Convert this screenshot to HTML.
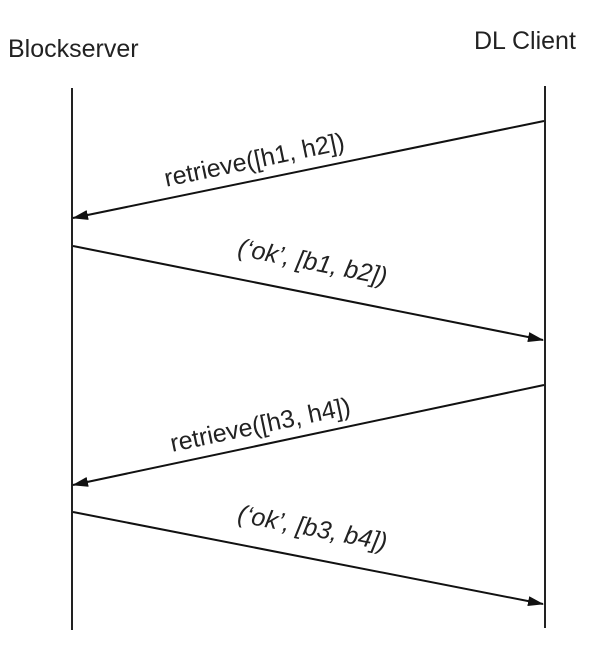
<!DOCTYPE html>
<html><head><meta charset="utf-8"><style>html,body{margin:0;padding:0;background:#fff}</style></head>
<body>
<svg width="609" height="653" xmlns="http://www.w3.org/2000/svg" style="display:block">
<defs><marker id="a" markerWidth="16" markerHeight="10" refX="15" refY="5" orient="auto" markerUnits="userSpaceOnUse"><path d="M0,0 L16,5 L0,10 Z" fill="#111"/></marker></defs>
<g font-family="Liberation Sans, sans-serif" font-size="25" fill="#222">
<text x="8" y="57">Blockserver</text>
<text x="474" y="49">DL Client</text>
</g>
<g stroke="#222" stroke-width="2" fill="none">
<line x1="72" y1="88" x2="72" y2="630"/>
<line x1="545" y1="86" x2="545" y2="628"/>
</g>
<g stroke="#111" stroke-width="2">
<line x1="544" y1="121" x2="73" y2="218" marker-end="url(#a)"/>
<line x1="73" y1="246" x2="543" y2="340" marker-end="url(#a)"/>
<line x1="544" y1="385" x2="73" y2="485" marker-end="url(#a)"/>
<line x1="73" y1="512" x2="543" y2="604" marker-end="url(#a)"/>
</g>
<g font-family="Liberation Sans, sans-serif" font-size="25" fill="#222" text-anchor="middle">
<text transform="translate(256,168) rotate(-11.8)">retrieve([h1, h2])</text>
<text transform="translate(311,270) rotate(11.3)" font-style="italic">(‘ok’, [b1, b2])</text>
<text transform="translate(262,433) rotate(-11.9)">retrieve([h3, h4])</text>
<text transform="translate(311,536) rotate(11)" font-style="italic">(‘ok’, [b3, b4])</text>
</g>
</svg>
</body></html>
